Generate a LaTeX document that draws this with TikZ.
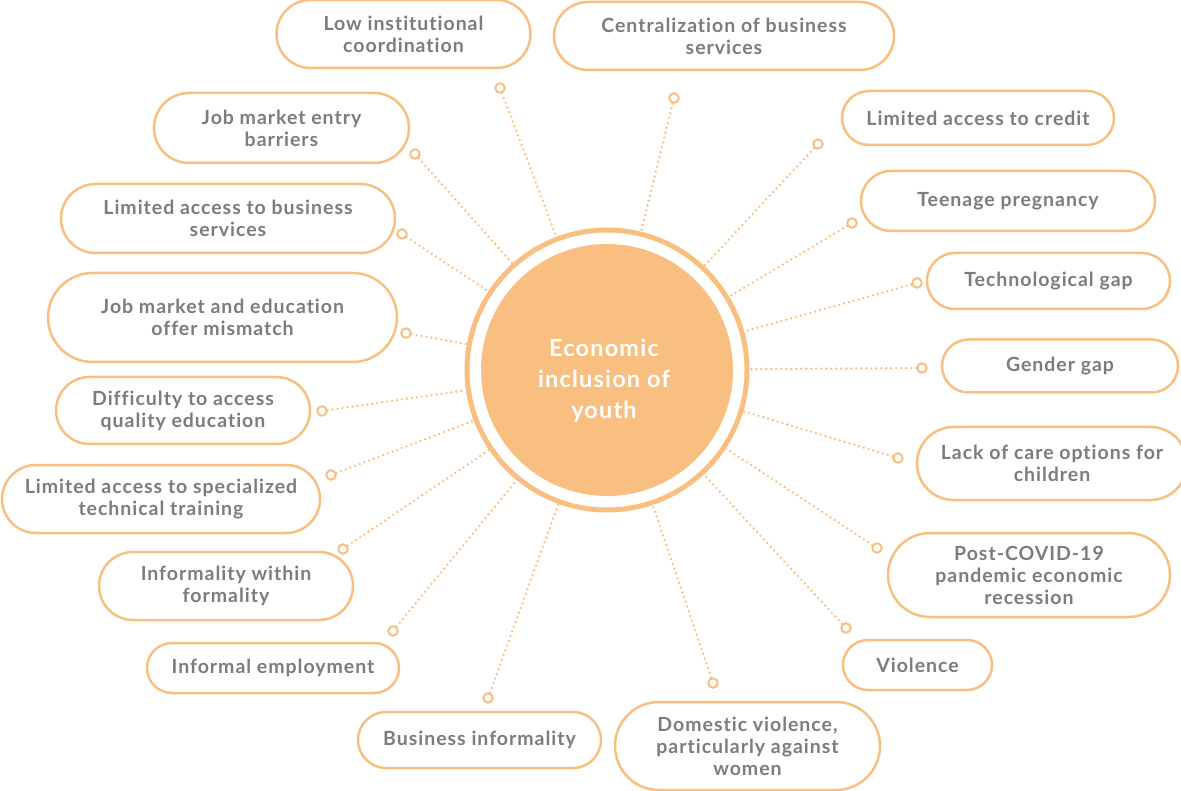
\documentclass[tikz,border=0pt]{standalone}
\usepackage{fontspec}
\setmainfont{Lato}
\newfontfamily\labelfont{Lato}[LetterSpace=5, Ligatures={NoCommon,NoRare}]
\usetikzlibrary{shapes.misc}

\definecolor{peach}{HTML}{F9BF80}
\definecolor{labelgray}{HTML}{7C7C80}

\tikzset{
    barrier/.style={rounded rectangle, draw=peach, line width=2.5pt, fill=white,
        text=labelgray, font=\labelfont\bfseries\fontsize{19.5}{22}\selectfont, align=center, inner sep=0pt},
    pin/.style={circle, draw=peach, line width=2pt, fill=white, minimum size=9.5pt, inner sep=0pt},
    link/.style={peach, line width=2.6pt, line cap=round, dash pattern=on 0pt off 5pt},
}

\begin{document}
\begin{tikzpicture}[x=1pt, y=-1pt]
    \useasboundingbox (0,0) rectangle (1181,791);

    % hub in the middle
    \node [circle, draw=peach, line width=5pt, minimum size=280pt, inner sep=0pt] (hub) at (607,370) {};
    \node [circle, fill=peach, minimum size=252pt, inner sep=0pt] (core) at (hub) {};
    \node [text=white, align=center, font=\labelfont\bfseries\fontsize{23.5}{31}\selectfont]
        (title) at (604,381) {Economic\\inclusion of\\youth};

    % left half
    \node [barrier, minimum width=254pt, minimum height=68pt] (low) at (403.5,34) {Low institutional\\coordination};
    \node [barrier, minimum width=255pt, minimum height=70pt] (entry) at (281.5,128) {Job market entry\\barriers};
    \node [barrier, minimum width=334pt, minimum height=69pt] (busserv) at (228,218.5) {Limited access to business\\services};
    \node [barrier, minimum width=349pt, minimum height=89pt] (mismatch) at (222.5,317.5) {Job market and education\\offer mismatch};
    \node [barrier, minimum width=254pt, minimum height=67pt] (quality) at (183,410.5) {Difficulty to access\\quality education};
    \node [barrier, minimum width=318pt, minimum height=68pt] (training) at (161,499) {Limited access to specialized\\technical training};
    \node [barrier, minimum width=254pt, minimum height=68pt] (withinf) at (226,586) {Informality within\\formality};
    \node [barrier, minimum width=252pt, minimum height=50pt] (informal) at (273,668) {Informal employment};
    \node [barrier, minimum width=243pt, minimum height=56pt] (businf) at (479.5,740) {Business informality};

    % right half
    \node [barrier, minimum width=340pt, minimum height=68pt] (central) at (724,36) {Centralization of business\\services};
    \node [barrier, minimum width=272pt, minimum height=54pt] (credit) at (978,118) {Limited access to credit};
    \node [barrier, minimum width=294pt, minimum height=60pt] (teen) at (1008,201) {Teenage pregnancy};
    \node [barrier, minimum width=243pt, minimum height=56pt] (tech) at (1048.5,281) {Technological gap};
    \node [barrier, minimum width=236pt, minimum height=53pt] (gender) at (1060,366) {Gender gap};
    \node [barrier, minimum width=270pt, minimum height=73pt] (care) at (1052,463.5) {Lack of care options for\\children};
    \node [barrier, minimum width=282pt, minimum height=84pt] (covid) at (1029,575) {Post-COVID-19\\pandemic economic\\recession};
    \node [barrier, minimum width=149pt, minimum height=50pt] (violence) at (917.5,665) {Violence};
    \node [barrier, minimum width=265pt, minimum height=88pt] (domestic) at (747.5,746) {Domestic violence,\\particularly against\\women};

    % small rings at the end of each spoke
    \node [pin] (plow) at (500,88) {};
    \node [pin] (pentry) at (415,154) {};
    \node [pin] (pbusserv) at (402,234) {};
    \node [pin] (pmismatch) at (406,333) {};
    \node [pin] (pquality) at (322,411) {};
    \node [pin] (ptraining) at (331,475) {};
    \node [pin] (pwithinf) at (343,549) {};
    \node [pin] (pinformal) at (393,631) {};
    \node [pin] (pbusinf) at (488,698) {};
    \node [pin] (pcentral) at (674,98) {};
    \node [pin] (pcredit) at (818,144) {};
    \node [pin] (pteen) at (852,223) {};
    \node [pin] (ptech) at (917,283) {};
    \node [pin] (pgender) at (922,368) {};
    \node [pin] (pcare) at (898,458) {};
    \node [pin] (pcovid) at (877,548) {};
    \node [pin] (pviolence) at (846,628) {};
    \node [pin] (pdomestic) at (713,683) {};

    % dotted spokes
    \foreach \n in {low,entry,busserv,mismatch,quality,training,withinf,informal,businf,
                    central,credit,teen,tech,gender,care,covid,violence,domestic}
        \draw [link] (p\n) -- (hub);
\end{tikzpicture}
\end{document}
